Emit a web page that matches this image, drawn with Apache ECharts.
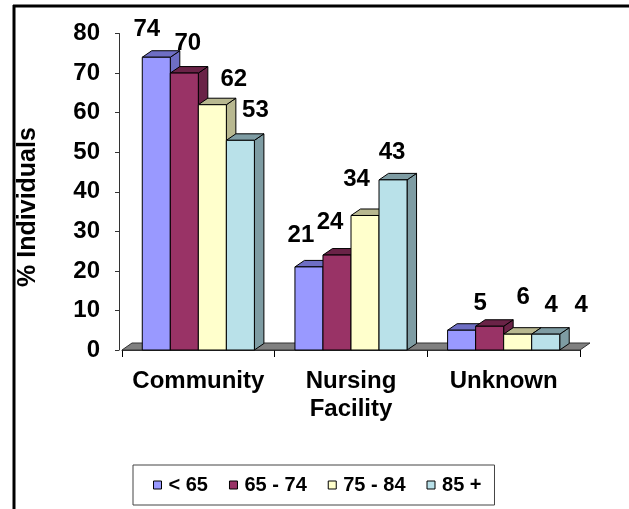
<!DOCTYPE html>
<html>
<head>
<meta charset="utf-8">
<script src="https://cdn.jsdelivr.net/npm/echarts@6/dist/echarts.min.js"></script>
<style>
html,body{margin:0;padding:0;background:#fff;}
#chart{width:629px;height:509px;}
</style>
</head>
<body>
<div id="chart"></div>
<script>
// ---- data ----
var categories = ['Community', 'Nursing\nFacility', 'Unknown'];
var seriesNames = ['< 65', '65 - 74', '75 - 84', '85 +'];
var under65 = [74, 21, 5];
var age65to74 = [70, 24, 6];
var age75to84 = [62, 34, 4];
var age85plus = [53, 43, 4];
var yTicks = [0, 10, 20, 30, 40, 50, 60, 70, 80];

// ---- styles ----
var FONT = '"Liberation Sans", Arial, sans-serif';
var frontColors = ['#9999FF', '#993366', '#FFFFCC', '#B9E1E9'];
var shadeColors = ['#6E6EC4', '#6A2347', '#B8B890', '#7E9CA3'];
// label nudges [dx, dy] relative to bar front-top centre (layout only)
var labelNudge = [
  [[-9.5, -28], [-8, -32], [18.5, -27]],
  [[3.5, -30], [-7, -33], [33.5, -29]],
  [[21.5, -25], [-8.5, -36], [33.5, -29]],
  [[15, -30], [-1, -28], [35.5, -29]]
];
var DX = 9.5, DY = -6.5;
var allSeries = [under65, age65to74, age75to84, age85plus];

var chart = echarts.init(document.getElementById('chart'), null, {renderer: 'canvas'});

function barRender(si) {
  return function (params, api) {
    var j = api.value(0);
    var v = api.value(1);
    var band = api.size([1, 0])[0];
    var c = api.coord([j, 0]);
    var y0 = c[1];
    var yt = api.coord([j, v])[1];
    var bw = band * 0.1836;
    var off = (band - 4 * bw) / 2;
    var l = c[0] - band / 2 + off + si * bw;
    var r = l + bw;
    var nd = labelNudge[si][j];
    return {
      type: 'group',
      children: [
        {type: 'polygon', shape: {points: [[r, yt], [r + DX, yt + DY], [r + DX, y0 + DY], [r, y0]]},
          style: {fill: shadeColors[si], stroke: '#000', lineWidth: 1}},
        {type: 'polygon', shape: {points: [[l, yt], [r, yt], [r + DX, yt + DY], [l + DX, yt + DY]]},
          style: {fill: shadeColors[si], stroke: '#000', lineWidth: 1}},
        {type: 'rect', shape: {x: l, y: yt, width: bw, height: y0 - yt},
          style: {fill: frontColors[si], stroke: '#000', lineWidth: 1}},
        {type: 'text', x: l + bw / 2 + nd[0], y: yt + nd[1],
          style: {text: String(v), fill: '#000', font: 'bold 24px ' + FONT, align: 'center', verticalAlign: 'middle'}}
      ]
    };
  };
}

function floorRender(params, api) {
  var band = api.size([1, 0])[0];
  var a = api.coord([0, 0]);
  var b = api.coord([categories.length - 1, 0]);
  var xl = a[0] - band / 2, xr = b[0] + band / 2, y0 = a[1];
  return {
    type: 'polygon',
    shape: {points: [[xl, y0], [xr, y0], [xr + 10, y0 - 7], [xl + 10, y0 - 7]]},
    style: {fill: '#808080', stroke: '#333', lineWidth: 1}
  };
}

var series = [{
  type: 'custom', name: 'floor', silent: true, z: 1,
  renderItem: floorRender, data: [[0, 0]], legendHoverLink: false
}];
allSeries.forEach(function (arr, si) {
  series.push({
    type: 'custom',
    name: seriesNames[si],
    z: 2 + si,
    itemStyle: {color: frontColors[si]},
    renderItem: barRender(si),
    encode: {x: 0, y: 1},
    data: arr.map(function (v, j) { return [j, v]; })
  });
});

chart.setOption({
  animation: false,
  backgroundColor: '#fff',
  textStyle: {fontFamily: FONT},
  grid: {left: 122, right: 49, top: 33.5, bottom: 159, containLabel: false},
  xAxis: {
    type: 'category',
    data: categories,
    boundaryGap: true,
    axisLine: {show: true, lineStyle: {color: '#333', width: 1}},
    axisTick: {show: true, length: 7, alignWithLabel: false, lineStyle: {color: '#000'}},
    axisLabel: {color: '#000', fontSize: 24, fontWeight: 'bold', fontFamily: FONT, lineHeight: 28, margin: 17, interval: 0},
    splitLine: {show: false}
  },
  yAxis: {
    type: 'value',
    min: yTicks[0], max: yTicks[yTicks.length - 1], interval: 10,
    offset: 3,
    axisLine: {show: true, lineStyle: {color: '#333', width: 1}},
    axisTick: {show: true, length: 4, lineStyle: {color: '#333'}},
    axisLabel: {color: '#000', fontSize: 24, fontWeight: 'bold', fontFamily: FONT, margin: 19},
    splitLine: {show: false}
  },
  legend: {
    data: seriesNames,
    left: 133, top: 465,
    orient: 'horizontal',
    icon: 'rect',
    itemWidth: 8, itemHeight: 8,
    itemGap: 21,
    padding: [9, 13, 9, 20],
    borderColor: '#444', borderWidth: 1,
    itemStyle: {borderColor: '#000', borderWidth: 1},
    textStyle: {color: '#000', fontSize: 20, fontWeight: 'bold', fontFamily: FONT, lineHeight: 22, padding: [0, 0, 0, 2]},
    selectedMode: false
  },
  graphic: [
    {type: 'line', shape: {x1: 13, y1: 6, x2: 629, y2: 6}, style: {stroke: '#000', lineWidth: 3}},
    {type: 'line', shape: {x1: 14, y1: 5, x2: 14, y2: 509}, style: {stroke: '#000', lineWidth: 3}},
    {type: 'text', x: 28, y: 207, rotation: Math.PI / 2,
      style: {text: '% Individuals', fill: '#000', font: 'bold 25px ' + FONT, align: 'center', verticalAlign: 'middle'}}
  ],
  series: series
});
</script>
</body>
</html>
